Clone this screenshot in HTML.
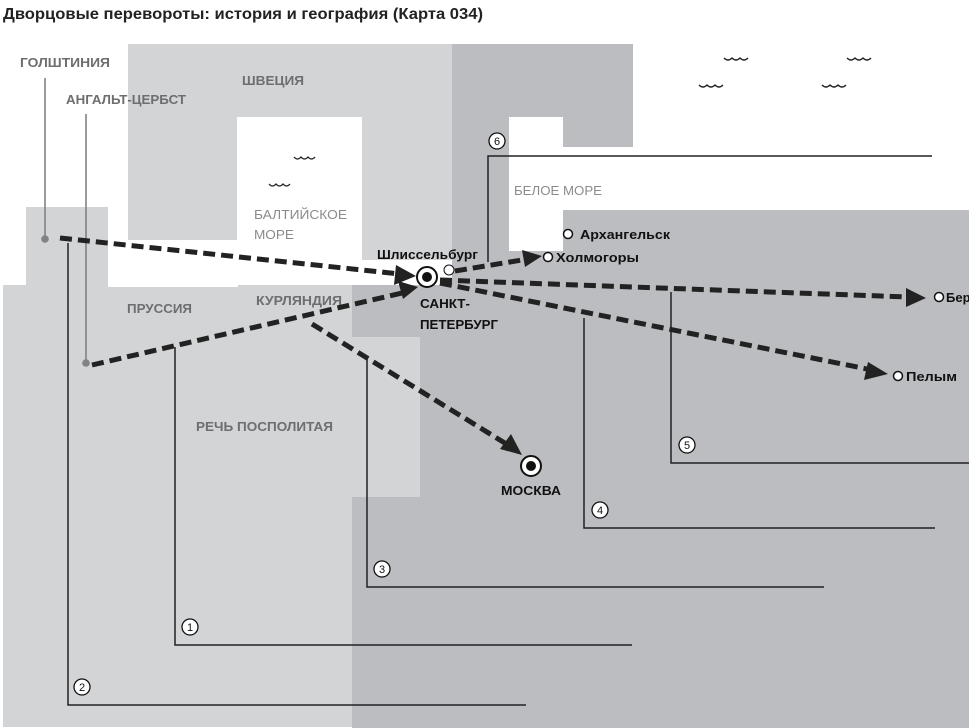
<!DOCTYPE html>
<html><head><meta charset="utf-8"><style>
html,body{margin:0;padding:0;background:#fff}
svg{display:block}
text{font-family:"Liberation Sans",sans-serif}
.lab{font-size:13px;font-weight:bold;fill:#6d6e70}
.sea{font-size:13px;fill:#8a8b8d}
.city{font-size:13px;font-weight:bold;fill:#111}
.num{font-size:11px;fill:#111}
</style></head><body>
<svg width="969" height="728" viewBox="0 0 969 728" xmlns="http://www.w3.org/2000/svg">
<defs>
<marker id="ah" markerWidth="6" markerHeight="6" refX="3" refY="3" orient="auto" markerUnits="userSpaceOnUse" viewBox="0 0 6 6">
</marker>
</defs>
<rect width="969" height="728" fill="#fff"/>
<!-- dark -->
<g fill="#bcbdc0">
<rect x="452" y="44" width="181" height="103"/>
<rect x="452" y="147" width="57" height="140"/>
<rect x="509" y="210" width="460" height="518"/>
<rect x="352" y="287" width="617" height="441"/>
</g>
<!-- light -->
<g fill="#d3d4d6">
<rect x="128" y="44" width="324" height="216"/>
<rect x="26" y="207" width="82" height="78"/>
<rect x="3" y="285" width="349" height="442"/>
<rect x="352" y="337" width="68" height="160"/>
</g>
<!-- white -->
<g fill="#fff">
<rect x="237" y="117" width="125" height="143"/>
<rect x="108" y="240" width="130" height="47"/>
<rect x="108" y="260" width="344" height="25"/>
<rect x="509" y="117" width="54" height="134"/>
</g>
<rect x="352" y="285" width="100" height="2" fill="#bcbdc0"/>
<!-- waves -->
<g fill="none" stroke="#222" stroke-width="1.3">
<path d="M294 157 q3.5 4 7 0 q3.5 4 7 0 q3.5 4 7 0"/>
<path d="M269 184 q3.5 4 7 0 q3.5 4 7 0 q3.5 4 7 0"/>
<path d="M724 58 q4 4 8 0 q4 4 8 0 q4 4 8 0"/>
<path d="M699 85 q4 4 8 0 q4 4 8 0 q4 4 8 0"/>
<path d="M847 58 q4 4 8 0 q4 4 8 0 q4 4 8 0"/>
<path d="M822 85 q4 4 8 0 q4 4 8 0 q4 4 8 0"/>
</g>
<!-- title -->
<text x="3" y="19" font-size="15.5" font-weight="bold" fill="#222" textLength="480" lengthAdjust="spacingAndGlyphs">Дворцовые перевороты: история и география (Карта 034)</text>
<!-- region labels -->
<text class="lab" x="20" y="67" textLength="90" lengthAdjust="spacingAndGlyphs">ГОЛШТИНИЯ</text>
<text class="lab" x="66" y="104" textLength="120" lengthAdjust="spacingAndGlyphs">АНГАЛЬТ-ЦЕРБСТ</text>
<text class="lab" x="242" y="85" textLength="62" lengthAdjust="spacingAndGlyphs">ШВЕЦИЯ</text>
<text class="sea" x="254" y="219" textLength="93" lengthAdjust="spacingAndGlyphs">БАЛТИЙСКОЕ</text>
<text class="sea" x="254" y="239" textLength="40" lengthAdjust="spacingAndGlyphs">МОРЕ</text>
<text class="lab" x="127" y="313" textLength="65" lengthAdjust="spacingAndGlyphs">ПРУССИЯ</text>
<text class="lab" x="256" y="305" textLength="86" lengthAdjust="spacingAndGlyphs">КУРЛЯНДИЯ</text>
<text class="lab" x="196" y="431" textLength="137" lengthAdjust="spacingAndGlyphs">РЕЧЬ ПОСПОЛИТАЯ</text>
<text class="sea" x="514" y="195" textLength="88" lengthAdjust="spacingAndGlyphs">БЕЛОЕ МОРЕ</text>
<!-- grey leader lines -->
<g stroke="#808285" stroke-width="1.6" fill="#808285">
<line x1="45" y1="78" x2="45" y2="238"/><circle cx="45" cy="239" r="3"/>
<line x1="86" y1="114" x2="86" y2="364"/><circle cx="86" cy="363" r="3"/>
</g>
<!-- numbered bracket lines -->
<g stroke="#222" stroke-width="1.5" fill="none">
<polyline points="68,243 68,705 526,705"/>
<polyline points="175,347 175,645 632,645"/>
<polyline points="367,359 367,587 824,587"/>
<polyline points="584,318 584,528 935,528"/>
<polyline points="671,292 671,463 969,463"/>
<polyline points="488,262 488,156 932,156"/>
</g>
<g fill="#fff" stroke="#111" stroke-width="1.3">
<circle cx="190" cy="627" r="8"/><circle cx="82" cy="687" r="8"/><circle cx="382" cy="569" r="8"/>
<circle cx="600" cy="510" r="8"/><circle cx="687" cy="445" r="8"/><circle cx="497" cy="141" r="8"/>
</g>
<g class="num" text-anchor="middle">
<text x="190" y="631">1</text><text x="82" y="691">2</text><text x="382" y="573">3</text>
<text x="600" y="514">4</text><text x="687" y="449">5</text><text x="497" y="145">6</text>
</g>
<!-- dashed routes -->
<g stroke="#222" stroke-width="5" stroke-dasharray="12 6" fill="none">
<line x1="60" y1="238" x2="400" y2="274"/>
<line x1="92" y1="365" x2="402" y2="293"/>
<line x1="312" y1="324" x2="508" y2="445"/>
<line x1="455" y1="271" x2="528" y2="259"/>
<line x1="440" y1="280" x2="908" y2="297"/>
<line x1="440" y1="283" x2="872" y2="370"/>
</g>
<g fill="#222">
<polygon points="416,276 396,265 394,285"/>
<polygon points="418,287 398,281 403,299"/>
<polygon points="522,455 500,449 511,434"/>
<polygon points="542,256 522,250 525,267"/>
<polygon points="926,298 906,288 906,307"/>
<polygon points="888,374 868,362 864,380"/>
</g>
<!-- cities -->
<circle cx="427" cy="277" r="10" fill="#fff" stroke="#111" stroke-width="2"/>
<circle cx="427" cy="277" r="5" fill="#111"/>
<circle cx="449" cy="270" r="5" fill="#fff" stroke="#111" stroke-width="1"/>
<circle cx="531" cy="466" r="10" fill="#fff" stroke="#111" stroke-width="2"/>
<circle cx="531" cy="466" r="5" fill="#111"/>
<g fill="#fff" stroke="#111" stroke-width="1.5">
<circle cx="568" cy="234" r="4.5"/><circle cx="548" cy="257" r="4.5"/>
<circle cx="939" cy="297" r="4.5"/><circle cx="898" cy="376" r="4.5"/>
</g>
<text class="city" x="377" y="259" textLength="101" lengthAdjust="spacingAndGlyphs">Шлиссельбург</text>
<text class="city" x="420" y="308" textLength="50" lengthAdjust="spacingAndGlyphs">САНКТ-</text>
<text class="city" x="420" y="329" textLength="78" lengthAdjust="spacingAndGlyphs">ПЕТЕРБУРГ</text>
<text class="city" x="580" y="239" textLength="90" lengthAdjust="spacingAndGlyphs">Архангельск</text>
<text class="city" x="556" y="262" textLength="83" lengthAdjust="spacingAndGlyphs">Холмогоры</text>
<text class="city" x="946" y="302">Бер</text>
<text class="city" x="906" y="381" textLength="51" lengthAdjust="spacingAndGlyphs">Пелым</text>
<text class="city" x="501" y="495" textLength="60" lengthAdjust="spacingAndGlyphs">МОСКВА</text>
</svg>
</body></html>
